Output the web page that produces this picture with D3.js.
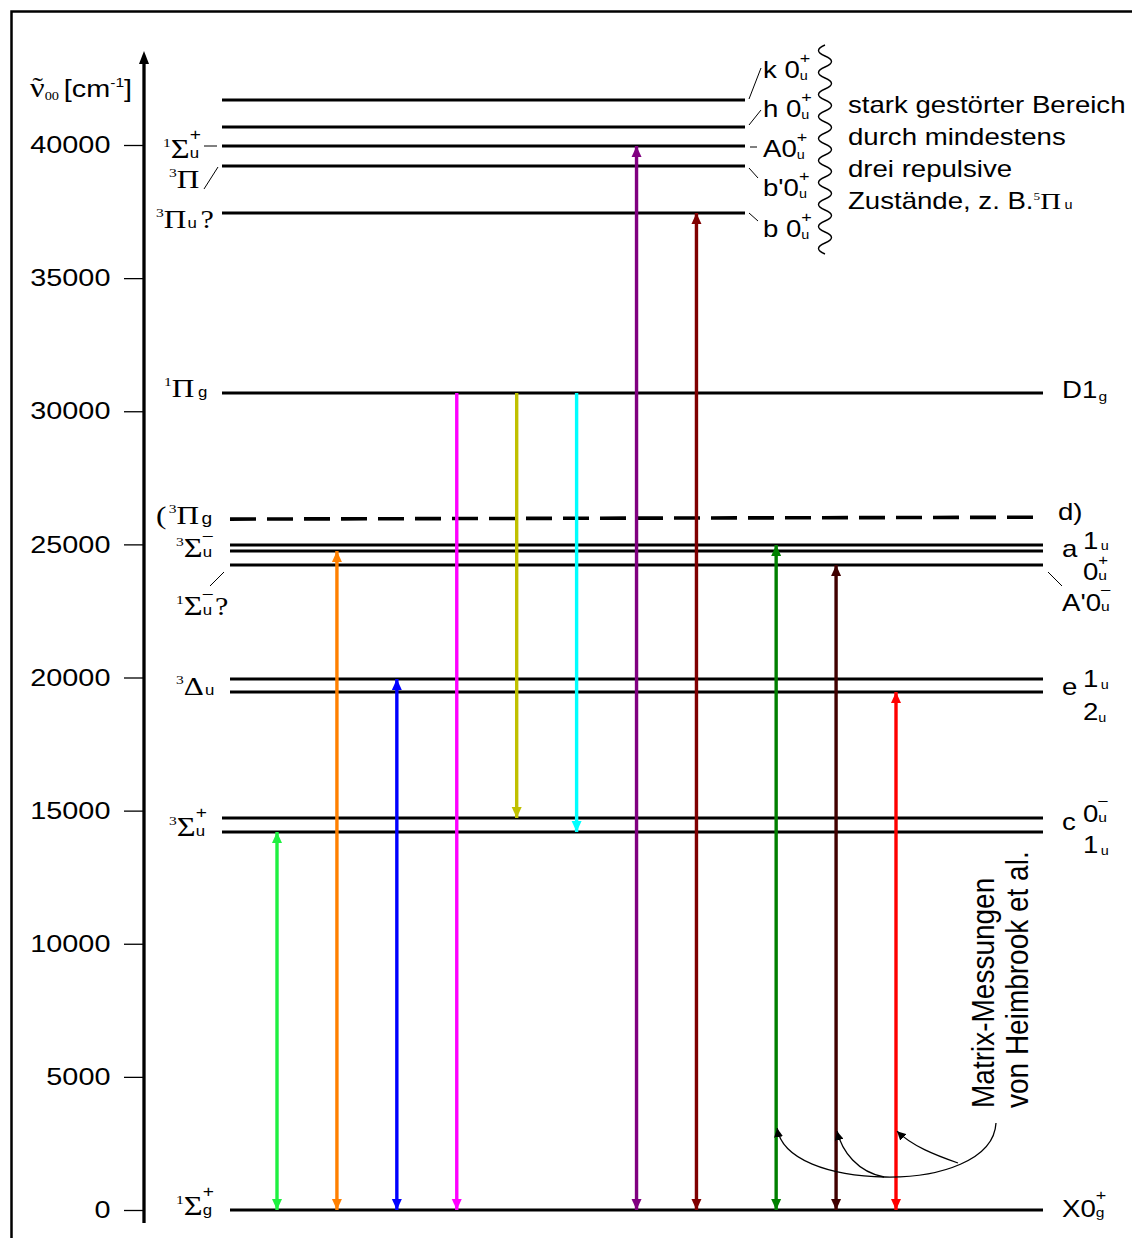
<!DOCTYPE html>
<html lang="de">
<head>
<meta charset="UTF-8">
<title>Termschema</title>
<script src="https://cdn.jsdelivr.net/npm/d3@7"></script>
<style>
  body { margin: 0; background: #fff; }
</style>
</head>
<body>
<svg id="chart" width="1132" height="1238"></svg>
<script>
// y axis ticks (cm-1)
const tickVals = [0, 5000, 10000, 15000, 20000, 25000, 30000, 35000, 40000];

// energy levels
const levelNames  = ['X', 'c1', 'c0', 'e2', 'e1', 'A1', 'a0', 'a1', 'D', 'b', 'b1', 'A', 'h', 'k'];
const levelValues = [0, 14197, 14723, 19455, 19944, 24225, 24751, 24977, 30685, 37446, 39211, 39962, 40676, 41690];
// dashed 3Pi_g level (left end, right end)
const dashedLevel = [25950, 26020];

// transitions: column, lower/upper level, colour, heads
const transCol   = [0, 1, 2, 3, 4, 5, 6, 7, 8.33, 9.33, 10.33];
const transFrom  = ['X', 'X', 'X', 'X', 'c0', 'c1', 'X', 'X', 'X', 'X', 'X'];
const transTo    = ['c1', 'a0', 'e1', 'D', 'D', 'D', 'A', 'b', 'a1', 'A1', 'e2'];
const transHeads = ['both', 'both', 'both', 'down', 'down', 'down', 'both', 'both', 'both', 'both', 'both'];
const transColor = ['#1ef040', '#ff8000', '#0000ff', '#ff00ff', '#c0c000', '#00ffff', '#800080', '#800000', '#008000', '#400000', '#ff0000'];

const svg = d3.select('#chart');
const sans = "'Liberation Sans', Arial, sans-serif";
const serif = "'Liberation Serif', 'Times New Roman', serif";
const SX = 1.2; // text in the original is drawn a bit wide

const y = d3.scaleLinear().domain([0, 40000]).range([1210, 145]);
const x = d3.scaleLinear().domain([0, 10.33]).range([277, 896]);
const lv = {};
levelNames.forEach((n, i) => lv[n] = levelValues[i]);

// frame
svg.append('path').attr('d', 'M11.5,1238 V11.5 H1132')
  .attr('fill', 'none').attr('stroke', '#000').attr('stroke-width', 2.5);

// y axis
const ax = svg.append('g').attr('transform', 'translate(144,0)')
  .call(d3.axisLeft(y).tickValues(tickVals).tickSize(20).tickPadding(8).tickFormat(d3.format('d')));
ax.select('.domain').remove();
ax.selectAll('.tick line').attr('stroke', '#000').attr('stroke-width', 1.3);
ax.selectAll('.tick text').attr('fill', '#000')
  .style('font-family', sans).style('font-size', '24px')
  .attr('transform', `scale(${SX},1)`);
svg.append('line').attr('x1', 144).attr('x2', 144).attr('y1', 1223).attr('y2', 60)
  .attr('stroke', '#000').attr('stroke-width', 3.3);
svg.append('path').attr('d', 'M144,51 L149,64 L139,64 Z').attr('fill', '#000');

// level lines
const shortTop = ['b', 'b1', 'A', 'h', 'k'];
const farLeft = ['D', 'c0', 'c1', ...shortTop];
svg.append('g').selectAll('line').data(levelNames).join('line')
  .attr('x1', d => farLeft.includes(d) ? 222 : 230)
  .attr('x2', d => shortTop.includes(d) ? 745 : 1043)
  .attr('y1', d => y(lv[d])).attr('y2', d => y(lv[d]))
  .attr('stroke', '#000').attr('stroke-width', 3);

svg.append('line').attr('x1', 230).attr('x2', 1043)
  .attr('y1', y(dashedLevel[0])).attr('y2', y(dashedLevel[1]))
  .attr('stroke', '#000').attr('stroke-width', 3.6).attr('stroke-dasharray', '26,11');

// transitions
const tr = transCol.map((c, i) => ({ c, lo: lv[transFrom[i]], hi: lv[transTo[i]], h: transHeads[i], col: transColor[i] }));
const tg = svg.append('g');
tg.selectAll('line').data(tr).join('line')
  .attr('x1', d => x(d.c)).attr('x2', d => x(d.c))
  .attr('y1', d => y(d.lo)).attr('y2', d => y(d.hi))
  .attr('stroke', d => d.col).attr('stroke-width', 3.4);
// heads at the bottom (all)
tg.selectAll('path.dn').data(tr).join('path').attr('class', 'dn')
  .attr('d', d => { const px = x(d.c), py = y(d.lo); return `M${px},${py} L${px - 5},${py - 11} L${px + 5},${py - 11} Z`; })
  .attr('fill', d => d.col);
// heads at the top
tg.selectAll('path.up').data(tr.filter(d => d.h === 'both')).join('path').attr('class', 'up')
  .attr('d', d => { const px = x(d.c), py = y(d.hi); return `M${px},${py} L${px - 5},${py + 11} L${px + 5},${py + 11} Z`; })
  .attr('fill', d => d.col);

// text helper: parts are text pieces, arrays of stacked pieces, or numeric gaps
function lab(px, py, parts, sx = SX) {
  const g = svg.append('g').attr('transform', `translate(${px},${py}) scale(${sx},1)`);
  let cx = 0;
  parts.forEach(p => {
    if (typeof p === 'number') { cx += p; return; }
    const items = Array.isArray(p) ? p : [p];
    let w = 0;
    items.forEach(q => {
      const t = g.append('text').attr('x', cx + (q.dx || 0)).attr('y', q.dy || 0)
        .style('font-family', q.f === 'r' ? serif : sans)
        .style('font-size', q.s + 'px').text(q.t);
      if (!q.dx) w = Math.max(w, t.node().getComputedTextLength());
    });
    cx += w;
  });
  return g;
}
const R = (t, s, dy, dx) => ({ t, f: 'r', s, dy, dx });
const S = (t, s, dy, dx) => ({ t, f: 's', s, dy, dx });
const pre = t => R(t, 13, -11);
const sig = () => R('\u03A3', 27, 0);
const pi = () => R('\u03A0', 26, 0);
const uSub = (t = 'u') => S(t, 14, 0);
const plus = () => S('+', 16, -18);
const minus = () => S('\u2013', 15, -17);

function thin(x1, y1, x2, y2) {
  svg.append('line').attr('x1', x1).attr('y1', y1).attr('x2', x2).attr('y2', y2)
    .attr('stroke', '#000').attr('stroke-width', 1);
}

// axis title
lab(30, 97, [[R('\u03BD', 27, 0), R('\u02DC', 26, -2, 2)], R('00', 12, 3), 4, S('[cm', 24, 0), S('-1', 13, -10), S(']', 24, 0)]);

// left labels
lab(163, 158, [pre('1'), sig(), [plus(), uSub()]]);
thin(204, 146, 217, 146);
lab(169, 188, [pre('3'), pi()]);
thin(204, 189, 218, 167);
lab(156, 228, [pre('3'), pi(), 1, uSub(), 3, R('?', 25, 0)]);
lab(164, 397, [pre('1'), pi(), 3, S('g', 14, 0)]);
lab(156, 524, [R('(', 26, 0), 2, pre('3'), pi(), 2, S('g', 16, 0)]);
lab(176, 557, [pre('3'), sig(), [minus(), uSub()]]);
lab(176, 615, [pre('1'), sig(), [minus(), uSub()], 2, R('?', 25, 0)]);
thin(210, 586, 224, 572);
lab(176, 695, [pre('3'), R('\u0394', 26, 0), 1, uSub()]);
lab(169, 836, [pre('3'), sig(), [plus(), uSub()]]);
lab(176, 1215, [pre('1'), sig(), [plus(), S('g', 14, 0)]]);

// right labels
lab(1062, 398, [S('D1', 23, 0), 1, S('g', 13, 3)]);
lab(1058, 520, [S('d)', 23, 0)]);
lab(1062, 557, [S('a', 23, 0)]);
lab(1083, 549, [S('1', 23, 0), 2, S('u', 12, 1)]);
lab(1083, 580, [S('0', 23, 0), [S('+', 14, -15), S('u', 13, 0)]]);
lab(1062, 611, [S("A'0", 23, 0), [S('\u2013', 14, -17), S('u', 13, 0)]]);
thin(1048, 572, 1062, 586);
lab(1062, 695, [S('e', 23, 0)]);
lab(1083, 687, [S('1', 23, 0), 2, S('u', 12, 2)]);
lab(1083, 720, [S('2', 23, 0), S('u', 12, 2)]);
lab(1062, 830, [S('c', 23, 0)]);
lab(1083, 822, [S('0', 23, 0), [S('\u2013', 14, -17), S('u', 13, 0)]]);
lab(1083, 853, [S('1', 23, 0), 2, S('u', 12, 2)]);
lab(1062, 1217, [S('X0', 23, 0), [S('+', 15, -17), S('g', 13, 0)]]);

// upper right labels
const topLab = (py, t) => lab(763, py, [S(t, 23, 0), [S('+', 15, -15), S('u', 12, 2)]]);
topLab(78, 'k 0');
topLab(117, 'h 0');
topLab(157, 'A0');
topLab(196, "b'0");
topLab(237, 'b 0');
thin(749, 99, 761, 68);
thin(749, 125, 761, 110);
thin(750, 147, 757, 147);
thin(749, 168, 758, 178);
thin(749, 213, 758, 221);

// wavy bracket
let wave = 'M825,45';
for (let i = 0; i < 19; i++) wave += ` q${i % 2 ? 13 : -13},5.5 0,11`;
svg.append('path').attr('d', wave).attr('fill', 'none').attr('stroke', '#000').attr('stroke-width', 1.4);

// note on the upper region
lab(848, 113, [S('stark gestörter Bereich', 23, 0)]);
lab(848, 145, [S('durch mindestens', 23, 0)]);
lab(848, 177, [S('drei repulsive', 23, 0)]);
lab(848, 209, [S('Zustände, z. B.', 23, 0), R('5', 11, -9), R('\u03A0', 24, 0), 3, S('u', 12, 0)]);

// matrix note, rotated
[['Matrix-Messungen', 994], ['von Heimbrook et al.', 1028]].forEach(([t, px]) => {
  svg.append('text').attr('transform', `translate(${px},1108) rotate(-90) scale(1,1.1)`)
    .style('font-family', sans).style('font-size', '28px').text(t);
});

// curved pointers
svg.append('defs').append('marker').attr('id', 'ah')
  .attr('viewBox', '0 0 10 10').attr('refX', 10).attr('refY', 5)
  .attr('markerWidth', 9).attr('markerHeight', 9).attr('markerUnits', 'userSpaceOnUse')
  .attr('orient', 'auto')
  .append('path').attr('d', 'M0,0 L10,5 L0,10 Z').attr('fill', '#000');
const ptrY = y(3000);
const cg = svg.append('g').attr('fill', 'none').attr('stroke', '#000').attr('stroke-width', 1.3);
cg.append('path').attr('d', `M996,1123 C994,1160 940,1178 885,1177 C830,1176 782,1160 ${x(8.33) + 1},${ptrY - 2}`).attr('marker-end', 'url(#ah)');
cg.append('path').attr('d', `M884,1177 C858,1172 842,1152 ${x(9.33) + 1},${ptrY + 1}`).attr('marker-end', 'url(#ah)');
cg.append('path').attr('d', `M958,1163 C935,1155 912,1146 ${x(10.33) + 1},${ptrY + 1}`).attr('marker-end', 'url(#ah)');
</script>
</body>
</html>
